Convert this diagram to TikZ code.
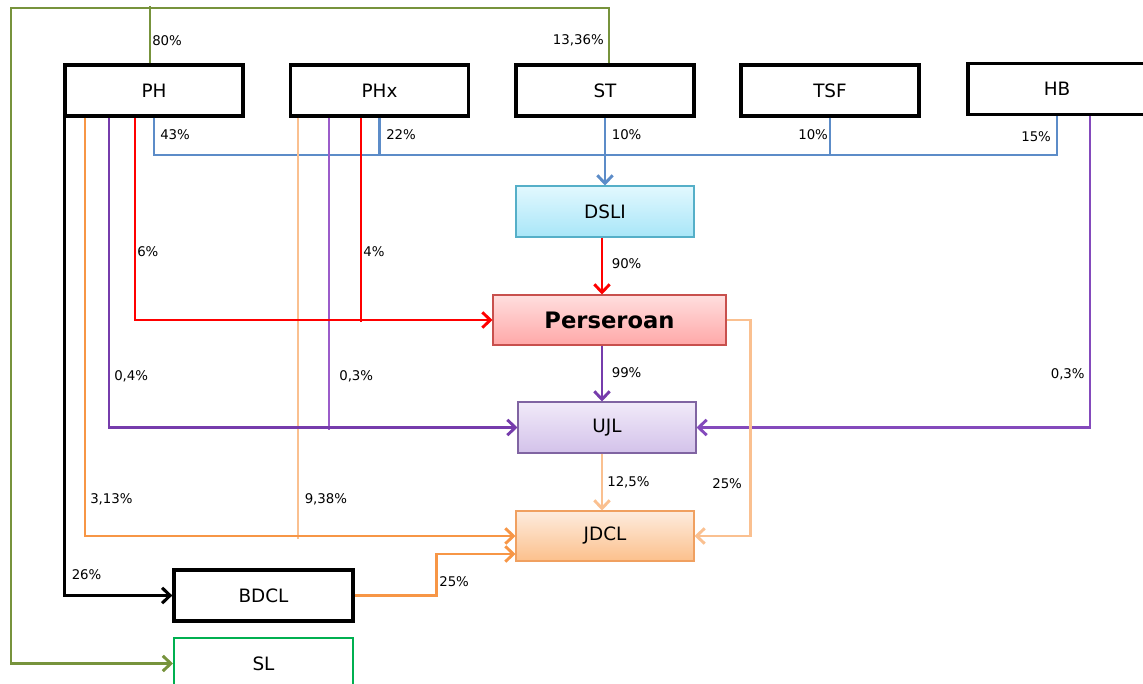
\documentclass[tikz,border=0pt]{standalone}
\usepackage{fontspec}
\setmainfont{DejaVu Sans}
\usetikzlibrary{arrows.meta,calc}
\definecolor{cblue}{RGB}{92,140,200}
\definecolor{cred}{RGB}{255,0,0}
\definecolor{cpurA}{RGB}{118,60,172}
\definecolor{cpurB}{RGB}{155,92,202}
\definecolor{cpurC}{RGB}{132,74,188}
\definecolor{corange}{RGB}{247,150,70}
\definecolor{cpeach}{RGB}{250,192,144}
\definecolor{cgreen}{RGB}{119,147,60}
\definecolor{slgreen}{RGB}{0,176,80}
\begin{document}
\begin{tikzpicture}[x=0.75pt,y=-0.75pt,
  blackbox/.style={draw=black, line width=2.5pt, fill=white, minimum width=133.5pt, minimum height=38.25pt, inner sep=0pt, font=\fontsize{13.8}{15}\selectfont},
  colbox/.style={line width=0.8pt, minimum width=133.5pt, minimum height=38.25pt, inner sep=0pt, font=\fontsize{13.8}{15}\selectfont},
  pct/.style={font=\fontsize{10}{12}\selectfont, inner sep=0pt, anchor=west},
  conn/.style={line width=2.2pt},
  arr/.style={-{Straight Barb[length=6pt,width=11.5pt]}},
  bl/.style={conn, draw=cblue},
  rd/.style={conn, draw=cred},
  puA/.style={conn, draw=cpurA},
  puB/.style={conn, draw=cpurB},
  puC/.style={conn, draw=cpurC},
  org/.style={conn, draw=corange},
  pe/.style={conn, draw=cpeach},
  gr/.style={conn, draw=cgreen},
  bk/.style={conn, line width=2.3pt, draw=black}]
\useasboundingbox (0,0) rectangle (1143,684);
\fill[white] (0,0) rectangle (1143,684);

% boxes
\node[blackbox] (PH)  at (154,90.5)   {PH};
\node[blackbox] (PHx) at (379.5,90.5) {PHx};
\node[blackbox] (ST)  at (605,90.5)   {ST};
\node[blackbox] (TSF) at (830,90.5)   {TSF};
\node[blackbox] (HB)  at (1057,89)    {HB};
\node[colbox, draw={rgb,255:red,85;green,175;blue,200}, top color={rgb,255:red,226;green,248;blue,254}, bottom color={rgb,255:red,168;green,230;blue,248}] (DSLI) at (605,211.5) {DSLI};
\node[colbox, draw={rgb,255:red,200;green,80;blue,77}, top color={rgb,255:red,255;green,222;blue,222}, bottom color={rgb,255:red,255;green,168;blue,168}, minimum width=174.75pt, minimum height=37.5pt, font=\fontsize{17}{19}\selectfont\bfseries] (Perseroan) at (609.5,320) {Perseroan};
\node[colbox, draw={rgb,255:red,128;green,100;blue,162}, top color={rgb,255:red,241;green,234;blue,249}, bottom color={rgb,255:red,211;green,194;blue,234}] (UJL) at (607,427.5) {UJL};
\node[colbox, draw={rgb,255:red,240;green,160;blue,96}, top color={rgb,255:red,253;green,236;blue,222}, bottom color={rgb,255:red,252;green,192;blue,140}, minimum height=37.5pt] (JDCL) at (605,536) {JDCL};
\node[blackbox, minimum width=134.25pt] (BDCL) at (263.5,595.5) {BDCL};
\node[colbox, draw=slgreen, line width=1.6pt, fill=white, minimum width=134.25pt] (SL) at (263.5,663.5) {SL};

\coordinate (gtop) at (11,8);
\coordinate (bus) at (0,155);
\coordinate (cx) at (602,0);

% green
\draw[gr,arr] ($(ST.north)+(4,0)$) |- (gtop) |- (SL.west);
\draw[gr] ($(PH.north)+(-4,0)$) -- ++(0,-57.5);

% blue bus
\draw[bl] (PH.south) |- (bus -| HB.south) -- (HB.south);
\draw[bl] (PHx.south) -- (PHx.south |- bus);
\draw[bl] (TSF.south) -- (TSF.south |- bus);
\draw[bl,arr] (ST.south) -- (DSLI.north);

% vertical chain
\draw[rd,arr] (DSLI.south -| cx) -- (Perseroan.north -| cx);
\draw[puA,arr] (Perseroan.south -| cx) -- (UJL.north -| cx);
\draw[pe,arr] (UJL.south -| cx) -- (JDCL.north -| cx);

% black
\draw[bk,arr] ($(PH.south west)+(1,0)$) |- (BDCL.west);
% orange
\draw[pe] ($(PHx.south)+(-81.5,0)$) -- ++(0,421);
\draw[org,arr] ($(PH.south)+(-69,0)$) |- (JDCL.west);
% purple
\draw[puB] ($(PHx.south)+(-50.5,0)$) -- ++(0,312.5);
\draw[puA,arr] ($(PH.south)+(-45,0)$) |- (UJL.west);
\draw[puC,arr] ($(HB.south)+(33,0)$) |- (UJL.east);
% red
\draw[rd] ($(PHx.south)+(-18.5,0)$) -- ++(0,204.5);
\draw[rd,arr] ($(PH.south)+(-19,0)$) |- (Perseroan.west);
% Perseroan -> JDCL
\draw[pe,arr] (Perseroan.east) -- ++(24,0) |- (JDCL.east);
% BDCL -> JDCL
\draw[org,arr] (BDCL.east) -- ++(82,0) |- ($(JDCL.west)+(0,18)$);

% labels
\node[pct] (l80) at (152,40.5) {80\%};
\node[pct, anchor=east] (l1336) at (604,40.5) {13,36\%};
\node[pct] (l43) at (160,135) {43\%};
\node[pct] (l22) at (386,135) {22\%};
\node[pct] (l10a) at (611.5,135) {10\%};
\node[pct] (l10b) at (798,135) {10\%};
\node[pct] (l15) at (1021,137) {15\%};
\node[pct] (l6) at (137,251.5) {6\%};
\node[pct] (l4) at (363,251.5) {4\%};
\node[pct] (l90) at (611.5,264) {90\%};
\node[pct] (l04) at (114,376.5) {0,4\%};
\node[pct] (l03a) at (339,376.5) {0,3\%};
\node[pct] (l03b) at (1050.5,374) {0,3\%};
\node[pct] (l99) at (611.5,373) {99\%};
\node[pct] (l125) at (607,482) {12,5\%};
\node[pct] (l25a) at (712,484) {25\%};
\node[pct] (l313) at (90,499) {3,13\%};
\node[pct] (l938) at (304.5,499) {9,38\%};
\node[pct] (l26) at (71.5,575) {26\%};
\node[pct] (l25b) at (439,581.5) {25\%};
\end{tikzpicture}
\end{document}
